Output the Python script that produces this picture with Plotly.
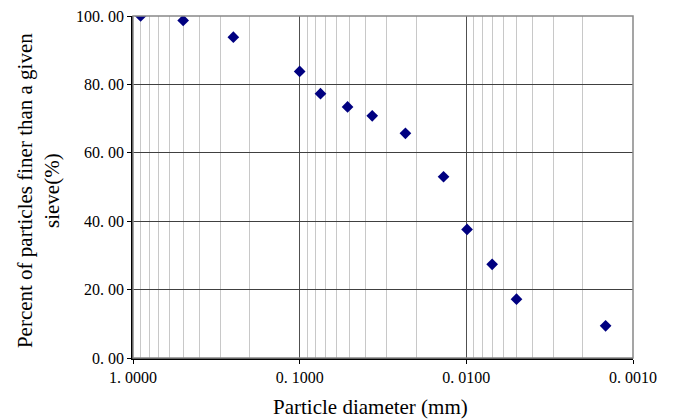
import plotly.graph_objects as go

diameter_mm = [0.9, 0.5, 0.25, 0.1, 0.075, 0.0516, 0.0367, 0.0232, 0.0137, 0.0099, 0.0070, 0.0050, 0.00146]
percent_finer = [100.0, 98.7, 93.8, 83.8, 77.3, 73.4, 70.8, 65.7, 53.0, 37.6, 27.4, 17.2, 9.4]

x_tickvals = [1, 0.1, 0.01, 0.001]
x_ticktext = ["1. 0000", "0. 1000", "0. 0100", "0. 0010"]
x_minor = [m * 10 ** e for e in (-3, -2, -1) for m in range(2, 10)]
y_tickvals = [0, 20, 40, 60, 80, 100]
y_ticktext = ["0. 00", "20. 00", "40. 00", "60. 00", "80. 00", "100. 00"]

FONT = "'Times New Roman', 'Liberation Serif', 'DejaVu Serif', serif"

fig = go.Figure()
fig.add_trace(go.Scatter(
    x=diameter_mm, y=percent_finer, mode="markers",
    marker=dict(symbol="diamond", size=9, color="#000080"),
    showlegend=False,
))

fig.update_layout(
    width=673, height=420,
    margin=dict(l=132.5, r=40.3, t=15.7, b=62),
    paper_bgcolor="white", plot_bgcolor="white",
    font=dict(family=FONT, color="black"),
    xaxis=dict(
        type="log", range=[0, -3],
        tickvals=x_tickvals, ticktext=x_ticktext,
        tickfont=dict(size=16, family=FONT),
        showgrid=True, gridcolor="#505050", gridwidth=1,
        minor=dict(tickvals=x_minor, showgrid=True, gridcolor="#c8c8c8", gridwidth=1, ticklen=0),
        showline=True, linecolor="black", linewidth=1.5,
        ticks="outside", ticklen=4, tickcolor="black",
        zeroline=False, automargin=False,
    ),
    yaxis=dict(
        range=[0, 100],
        tickvals=y_tickvals, ticktext=y_ticktext,
        tickfont=dict(size=16, family=FONT),
        showgrid=True, gridcolor="#404040", gridwidth=1,
        showline=True, linecolor="black", linewidth=1.5,
        ticks="outside", ticklen=4, tickcolor="black",
        zeroline=False, automargin=False,
    ),
    shapes=[dict(type="rect", xref="paper", yref="paper", x0=0, x1=1, y0=0, y1=1,
                 line=dict(color="#888888", width=1.5), layer="above")],
    annotations=[
        dict(text="Percent of particles finer than a given<br>sieve(%)", textangle=-90,
             xref="paper", yref="paper", x=-0.19, y=0.488, xanchor="center", yanchor="middle",
             showarrow=False, font=dict(size=21, family=FONT)),
        dict(text="Particle diameter (mm)",
             xref="paper", yref="paper", x=0.475, y=-0.143, xanchor="center", yanchor="middle",
             showarrow=False, font=dict(size=21, family=FONT)),
    ],
)

fig.write_html("out.html", config={"displayModeBar": False},
               post_script="document.body.style.margin='0';")
